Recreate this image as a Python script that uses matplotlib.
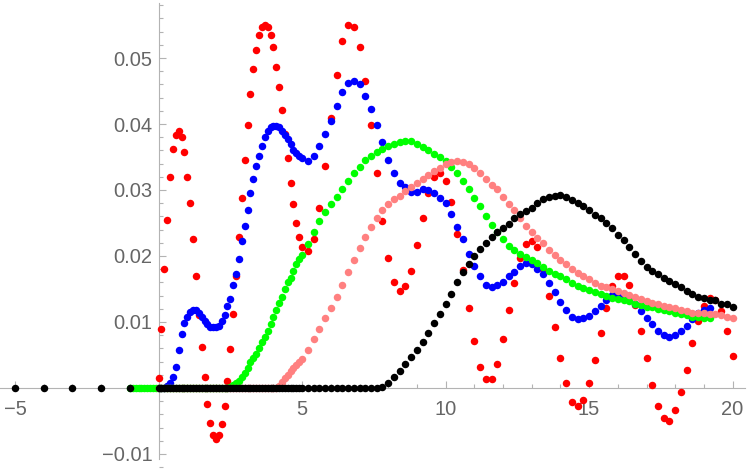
import matplotlib
matplotlib.use("Agg")
import matplotlib.pyplot as plt
from matplotlib.ticker import MultipleLocator

# sampling positions shared by the series (0.1 apart up to 5, then 0.2 apart)
x_grid = [
    0.0, 0.1, 0.2, 0.3, 0.4, 0.5, 0.6, 0.7, 0.8, 0.9,
    1.0, 1.1, 1.2, 1.3, 1.4, 1.5, 1.6, 1.7, 1.8, 1.9,
    2.0, 2.1, 2.2, 2.3, 2.4, 2.5, 2.6, 2.7, 2.8, 2.9,
    3.0, 3.1, 3.2, 3.3, 3.4, 3.5, 3.6, 3.7, 3.8, 3.9,
    4.0, 4.1, 4.2, 4.3, 4.4, 4.5, 4.6, 4.7, 4.8, 4.9,
    5.0, 5.2, 5.4, 5.6, 5.8, 6.0, 6.2, 6.4, 6.6, 6.8,
    7.0, 7.2, 7.4, 7.6, 7.8, 8.0, 8.2, 8.4, 8.6, 8.8,
    9.0, 9.2, 9.4, 9.6, 9.8, 10.0, 10.2, 10.4, 10.6, 10.8,
    11.0, 11.2, 11.4, 11.6, 11.8, 12.0, 12.2, 12.4, 12.6, 12.8,
    13.0, 13.2, 13.4, 13.6, 13.8, 14.0, 14.2, 14.4, 14.6, 14.8,
    15.0, 15.2, 15.4, 15.6, 15.8, 16.0, 16.2, 16.4, 16.6, 16.8,
    17.0, 17.2, 17.4, 17.6, 17.8, 18.0, 18.2, 18.4, 18.6, 18.8,
    19.0, 19.2, 19.4, 19.6, 19.8, 20.0,
]

red_y = [
    0.0015, 0.0090, 0.0180, 0.0255, 0.0320, 0.0362, 0.0383, 0.0390, 0.0380, 0.0358,
    0.0320, 0.0280, 0.0225, 0.0169, 0.0110, 0.0062, 0.0017, -0.0024, -0.0053, -0.0071,
    -0.0078, -0.0071, -0.0055, -0.0027, 0.0011, 0.0059, 0.0112, 0.0169, 0.0229, 0.0288,
    0.0345, 0.0398, 0.0445, 0.0484, 0.0512, 0.0535, 0.0547, 0.0550, 0.0547, 0.0535,
    0.0516, 0.0487, 0.0456, 0.0421, 0.0385, 0.0348, 0.0310, 0.0279, 0.0250, 0.0229,
    0.0214, 0.0207, 0.0225, 0.0272, 0.0336, 0.0409, 0.0475, 0.0526, 0.0550, 0.0547,
    0.0516, 0.0465, 0.0398, 0.0326, 0.0253, 0.0197, 0.0160, 0.0147, 0.0154, 0.0178,
    0.0216, 0.0257, 0.0295, 0.0320, 0.0326, 0.0314, 0.0282, 0.0234, 0.0179, 0.0121,
    0.0071, 0.0032, 0.0014, 0.0014, 0.0036, 0.0074, 0.0118, 0.0159, 0.0197, 0.0218,
    0.0222, 0.0213, 0.0180, 0.0140, 0.0093, 0.0045, 0.0007, -0.0021, -0.0027, -0.0018,
    0.0007, 0.0042, 0.0084, 0.0121, 0.0154, 0.0169, 0.0169, 0.0156, 0.0126, 0.0087,
    0.0045, 0.0005, -0.0027, -0.0046, -0.0050, -0.0033, -0.0006, 0.0028, 0.0068, 0.0102,
    0.0124, 0.0136, 0.0134, 0.0116, 0.0087, 0.0048,
]

blue_y = [
    0.0, 0.0, 0.0, 0.0003, 0.0008, 0.0016, 0.0032, 0.0058, 0.0082, 0.0098,
    0.0108, 0.0115, 0.0118, 0.0118, 0.0114, 0.0108, 0.0102, 0.0097, 0.0093, 0.0093,
    0.0093, 0.0094, 0.0101, 0.0110, 0.0124, 0.0135, 0.0156, 0.0172, 0.0195, 0.0222,
    0.0245, 0.0270, 0.0296, 0.0316, 0.0336, 0.0352, 0.0366, 0.0380, 0.0389, 0.0395,
    0.0397, 0.0397, 0.0395, 0.0390, 0.0384, 0.0377, 0.0370, 0.0361, 0.0356, 0.0352,
    0.0348, 0.0344, 0.0351, 0.0366, 0.0385, 0.0405, 0.0428, 0.0449, 0.0462, 0.0465,
    0.0460, 0.0443, 0.0422, 0.0398, 0.0373, 0.0345, 0.0326, 0.0311, 0.0305, 0.0297,
    0.0297, 0.0301, 0.0300, 0.0295, 0.0288, 0.0280, 0.0263, 0.0244, 0.0226, 0.0203,
    0.0185, 0.0169, 0.0156, 0.0153, 0.0156, 0.0160, 0.0169, 0.0175, 0.0185, 0.0189,
    0.0188, 0.0180, 0.0172, 0.0159, 0.0146, 0.0131, 0.0118, 0.0108, 0.0105, 0.0106,
    0.0109, 0.0116, 0.0124, 0.0134, 0.0141, 0.0143, 0.0141, 0.0135, 0.0127, 0.0117,
    0.0106, 0.0097, 0.0087, 0.0080, 0.0077, 0.0080, 0.0087, 0.0094, 0.0104, 0.0113,
    0.0118, 0.0121,
]

green_neg_x = [-1.0, -0.9, -0.8, -0.7, -0.6, -0.5, -0.4, -0.3, -0.2, -0.1]
green_neg_y = [0.0, 0.0, 0.0, 0.0, 0.0, 0.0, 0.0, 0.0, 0.0, 0.0]
green_y = [
    0.0, 0.0, 0.0, 0.0, 0.0, 0.0, 0.0, 0.0, 0.0, 0.0,
    0.0, 0.0, 0.0, 0.0, 0.0, 0.0, 0.0, 0.0, 0.0, 0.0,
    0.0, 0.0, 0.0, 0.0, 0.0, 0.0002, 0.0004, 0.0007, 0.0011, 0.0016,
    0.0023, 0.0031, 0.0039, 0.0045, 0.0052, 0.0061, 0.0070, 0.0078, 0.0087, 0.0097,
    0.0108, 0.0118, 0.0129, 0.0138, 0.0150, 0.0160, 0.0166, 0.0177, 0.0188, 0.0196,
    0.0202, 0.0218, 0.0236, 0.0253, 0.0267, 0.0279, 0.0290, 0.0302, 0.0314, 0.0326,
    0.0335, 0.0346, 0.0352, 0.0358, 0.0362, 0.0366, 0.0369, 0.0372, 0.0375, 0.0374,
    0.0369, 0.0365, 0.0361, 0.0355, 0.0350, 0.0344, 0.0335, 0.0326, 0.0314, 0.0301,
    0.0288, 0.0275, 0.0260, 0.0247, 0.0236, 0.0225, 0.0215, 0.0209, 0.0203, 0.0199,
    0.0194, 0.0189, 0.0184, 0.0178, 0.0172, 0.0169, 0.0165, 0.0159, 0.0155, 0.0152,
    0.0148, 0.0146, 0.0142, 0.0139, 0.0137, 0.0135, 0.0133, 0.0132, 0.0128, 0.0126,
    0.0123, 0.0122, 0.0119, 0.0118, 0.0116, 0.0114, 0.0112, 0.0111, 0.0108, 0.0107,
    0.0106, 0.0106,
]

pink_y = [
    0.0, 0.0, 0.0, 0.0, 0.0, 0.0, 0.0, 0.0, 0.0, 0.0,
    0.0, 0.0, 0.0, 0.0, 0.0, 0.0, 0.0, 0.0, 0.0, 0.0,
    0.0, 0.0, 0.0, 0.0, 0.0, 0.0, 0.0, 0.0, 0.0, 0.0,
    0.0, 0.0, 0.0, 0.0, 0.0, 0.0, 0.0, 0.0, 0.0, 0.0,
    0.0, 0.0, 0.0003, 0.0009, 0.0015, 0.0020, 0.0026, 0.0031, 0.0035, 0.0040,
    0.0044, 0.0058, 0.0074, 0.0090, 0.0106, 0.0121, 0.0138, 0.0156, 0.0175, 0.0194,
    0.0212, 0.0229, 0.0244, 0.0257, 0.0269, 0.0279, 0.0286, 0.0291, 0.0298, 0.0304,
    0.0310, 0.0317, 0.0323, 0.0329, 0.0333, 0.0339, 0.0343, 0.0344, 0.0343, 0.0339,
    0.0333, 0.0325, 0.0316, 0.0308, 0.0301, 0.0290, 0.0279, 0.0270, 0.0258, 0.0246,
    0.0236, 0.0227, 0.0219, 0.0209, 0.0202, 0.0194, 0.0188, 0.0180, 0.0174, 0.0169,
    0.0165, 0.0159, 0.0155, 0.0153, 0.0150, 0.0147, 0.0144, 0.0141, 0.0138, 0.0135,
    0.0132, 0.0129, 0.0127, 0.0124, 0.0122, 0.0121, 0.0118, 0.0116, 0.0114, 0.0113,
    0.0113, 0.0112, 0.0112, 0.0111, 0.0108, 0.0106,
]

black_neg_x = [-5.0, -4.0, -3.0, -2.0, -1.0]
black_neg_y = [0.0, 0.0, 0.0, 0.0, 0.0]
black_y = [
    0.0, 0.0, 0.0, 0.0, 0.0, 0.0, 0.0, 0.0, 0.0, 0.0,
    0.0, 0.0, 0.0, 0.0, 0.0, 0.0, 0.0, 0.0, 0.0, 0.0,
    0.0, 0.0, 0.0, 0.0, 0.0, 0.0, 0.0, 0.0, 0.0, 0.0,
    0.0, 0.0, 0.0, 0.0, 0.0, 0.0, 0.0, 0.0, 0.0, 0.0,
    0.0, 0.0, 0.0, 0.0, 0.0, 0.0, 0.0, 0.0, 0.0, 0.0,
    0.0, 0.0, 0.0, 0.0, 0.0, 0.0, 0.0, 0.0, 0.0, 0.0,
    0.0, 0.0, 0.0, 0.0, 0.0002, 0.0008, 0.0017, 0.0025, 0.0036, 0.0047,
    0.0058, 0.0070, 0.0083, 0.0099, 0.0112, 0.0127, 0.0143, 0.0160, 0.0175, 0.0188,
    0.0200, 0.0211, 0.0220, 0.0229, 0.0236, 0.0243, 0.0249, 0.0257, 0.0264, 0.0268,
    0.0273, 0.0280, 0.0286, 0.0289, 0.0291, 0.0292, 0.0290, 0.0285, 0.0281, 0.0275,
    0.0270, 0.0262, 0.0257, 0.0250, 0.0242, 0.0232, 0.0224, 0.0214, 0.0203, 0.0193,
    0.0184, 0.0178, 0.0172, 0.0166, 0.0162, 0.0157, 0.0153, 0.0147, 0.0143, 0.0138,
    0.0137, 0.0134, 0.0133, 0.0128, 0.0127, 0.0123,
]

x_ticks = [-5, 5, 10, 15, 20]
y_ticks = [-0.01, 0.01, 0.02, 0.03, 0.04, 0.05]

plt.rcParams["font.family"] = ["Liberation Sans", "DejaVu Sans"]

fig = plt.figure(figsize=(7.5, 4.71), dpi=100)
ax = fig.add_axes([0, 0, 1, 1])

dot = dict(linestyle="none", marker="o", markersize=5.4, markeredgewidth=0,
           zorder=3, clip_on=False)
ax.plot(x_grid, red_y, color="#ff0000", **dot)
ax.plot(x_grid[:len(blue_y)], blue_y, color="#0000ff", **dot)
ax.plot(green_neg_x + x_grid[:len(green_y)], green_neg_y + green_y, color="#00ff00", **dot)
ax.plot(x_grid, pink_y, color="#ff8080", **dot)
ax.plot(black_neg_x + x_grid, black_neg_y + black_y, color="#000000", **dot)

ax.set_xlim(-5.526, 20.606)
ax.set_ylim(-0.01258, 0.05879)

ax.spines["top"].set_visible(False)
ax.spines["right"].set_visible(False)
ax.spines["left"].set_position(("data", 0))
ax.spines["bottom"].set_position(("data", 0))
ax.spines["left"].set_bounds(-0.0108, 0.0583)
ax.spines["bottom"].set_bounds(-5.526, 20.43)
for s in ["left", "bottom"]:
    ax.spines[s].set_color("#b3b3b3")
    ax.spines[s].set_linewidth(0.8)

ax.set_xticks(x_ticks)
ax.set_yticks(y_ticks)
ax.set_xticklabels([str(t) if t >= 0 else "\u2212" + str(-t) for t in x_ticks])
ax.set_yticklabels(["%.2f" % t if t >= 0 else "\u2212%.2f" % -t for t in y_ticks])
ax.xaxis.set_minor_locator(MultipleLocator(1))
ax.yaxis.set_minor_locator(MultipleLocator(0.002))

ax.tick_params(which="both", direction="in", color="#b3b3b3", width=0.8,
               labelcolor="#666666", labelsize=14.5)
ax.tick_params(which="major", length=5)
ax.tick_params(which="minor", length=3)
ax.tick_params(axis="x", which="major", pad=9)
ax.tick_params(axis="y", which="major", pad=4.3)

fig.savefig("out.png", dpi=100)
